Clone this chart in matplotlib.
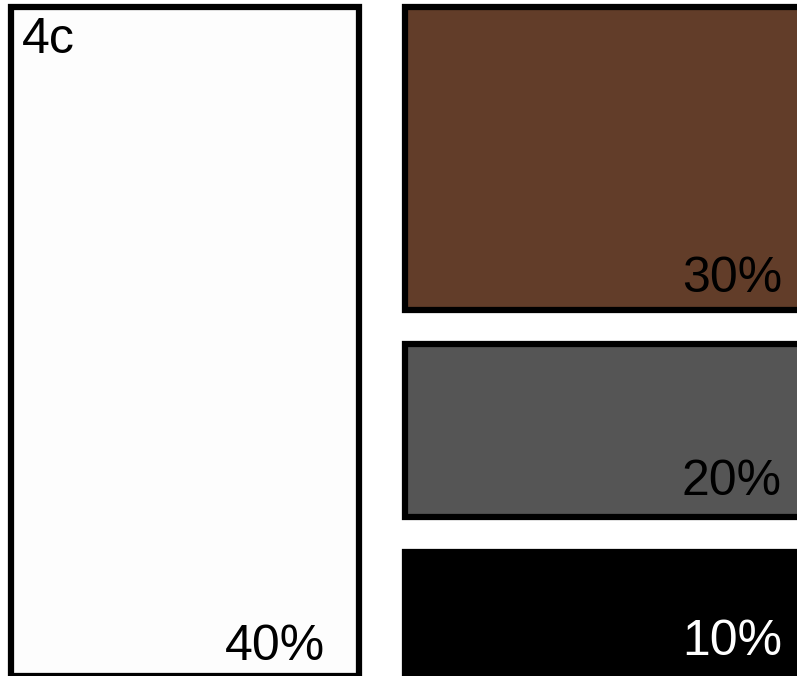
import matplotlib
matplotlib.use("Agg")
import matplotlib.pyplot as plt
from matplotlib.patches import Rectangle

# Data
categories = ["4c-a", "4c-b", "4c-c", "4c-d"]
values = [40, 30, 20, 10]
colors = ["#fdfdfd", "#623d29", "#555555", "#000000"]
text_colors = ["#000000", "#000000", "#000000", "#ffffff"]
title = "4c"

# Layout (pixel-space boxes: x0, y0, x1, y1 at edge centres)
boxes = [
    (11, 7, 359.5, 676),
    (405, 7, 806, 309.7),
    (405, 344, 806, 516.5),
    (405, 551.5, 806, 700),
]
label_anchor = [(325, 660), (782, 292), (782, 495), (782, 655)]

W, H = 797, 676
fig = plt.figure(figsize=(W / 100, H / 100), dpi=100)
ax = fig.add_axes([0, 0, 1, 1])
ax.set_xlim(0, W)
ax.set_ylim(H, 0)
ax.axis("off")

font = ["Liberation Sans", "DejaVu Sans"]
for (x0, y0, x1, y1), v, fc, tc, (tx, ty) in zip(boxes, values, colors, text_colors, label_anchor):
    ax.add_patch(Rectangle((x0, y0), x1 - x0, y1 - y0, facecolor=fc,
                           edgecolor="black", linewidth=4.5, clip_on=False))
    ax.text(tx, ty, f"{v}%", ha="right", va="baseline", fontsize=36,
            color=tc, family=font)

ax.text(22, 53, title, ha="left", va="baseline", fontsize=36, color="black", family=font)

fig.savefig("out.png", dpi=100)
